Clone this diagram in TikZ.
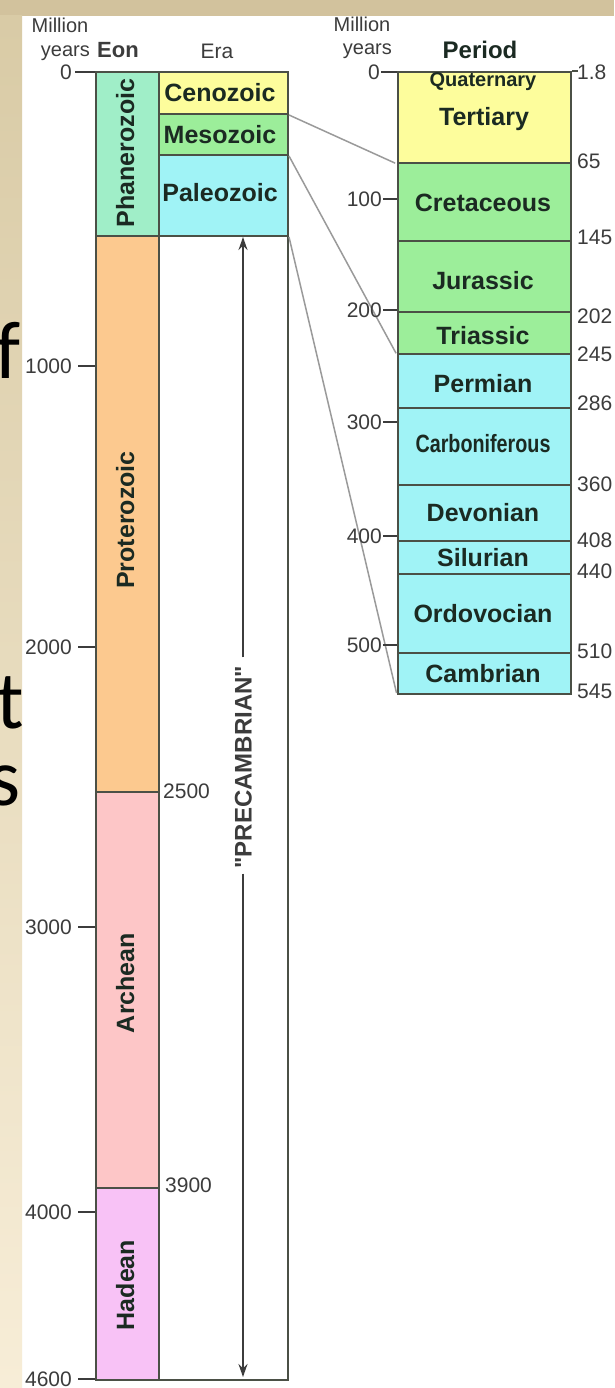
\documentclass[tikz,border=0pt]{standalone}
\usepackage{fontspec}
\setmainfont{Liberation Sans}
\newfontfamily\slidefont{Carlito}
\newfontfamily\qfont{Liberation Sans}[Ligatures=TeXOff]
\usetikzlibrary{arrows.meta}
\definecolor{band}{HTML}{D2C29D}
\definecolor{stripTop}{HTML}{D9CBA6}
\definecolor{stripBot}{HTML}{F7EDD7}
\definecolor{bord}{HTML}{4B5046}
\definecolor{labc}{HTML}{1B2A22}
\definecolor{tickc}{HTML}{3C3C3C}
\definecolor{connc}{HTML}{9A9A9A}
\definecolor{phan}{HTML}{A0EEC8}
\definecolor{prot}{HTML}{FCC98F}
\definecolor{arch}{HTML}{FDC6C7}
\definecolor{hade}{HTML}{F8C2F6}
\definecolor{ceno}{HTML}{FDFD9C}
\definecolor{meso}{HTML}{9CEE9A}
\definecolor{pale}{HTML}{A0F3F6}
\tikzset{
  cell/.style={draw=bord, line width=2pt, inner sep=0pt, anchor=north west},
  lab/.style={font=\fontsize{25}{25}\selectfont\bfseries, text=labc, inner sep=0pt, text height=18pt, text depth=0pt},
  tklab/.style={font=\fontsize{21}{21}\selectfont, text=tickc, inner sep=0pt, text height=15pt, text depth=0pt},
  hdr/.style={font=\fontsize{20}{20}\selectfont, text=tickc, inner sep=0pt, text height=14pt, text depth=0pt},
  tk/.style={draw=tickc, line width=1.5pt},
  conn/.style={draw=connc, line width=1.5pt},
  arr/.style={draw=tickc, line width=1.6pt, -{Stealth[length=13pt,width=9pt]}},
  bigletter/.style={font=\slidefont\fontsize{82}{82}\selectfont, inner sep=0pt, anchor=base west},
}
\begin{document}
\begin{tikzpicture}[x=1pt,y=-1pt]
\useasboundingbox (0,0) rectangle (614,1388);
% background
\fill[white] (0,0) rectangle (614,1388);
\fill[band] (0,0) rectangle (614,16);
\shade[top color=stripTop, bottom color=stripBot] (0,16) rectangle (22,1388);
\begin{scope}
\clip (0,16) rectangle (22,1388);
\node[bigletter] (lf) at (-5,378) {f};
\node[bigletter] (lt) at (-4,728) {t};
\node[bigletter] (ls) at (-12,805) {s};
\end{scope}

% Era column
\node[cell, fill=ceno, minimum width=129pt, minimum height=42pt] (ceno) at (158,71) {};
\node[cell, fill=meso, minimum width=129pt, minimum height=41pt] (meso) at (158,113) {};
\node[cell, fill=pale, minimum width=129pt, minimum height=81pt] (pale) at (158,154) {};
\node[cell, fill=white, minimum width=129pt, minimum height=1144pt] (prec) at (158,235) {};

% Eon column
\node[cell, fill=phan, minimum width=63pt, minimum height=164pt] (phan) at (95,71) {};
\node[cell, fill=prot, minimum width=63pt, minimum height=556pt] (prot) at (95,235) {};
\node[cell, fill=arch, minimum width=63pt, minimum height=396pt] (arch) at (95,791) {};
\node[cell, fill=hade, minimum width=63pt, minimum height=192pt] (hade) at (95,1187) {};

% Period column
\node[cell, fill=ceno, minimum width=173pt, minimum height=91pt] (tert) at (397,71) {};
\node[cell, fill=meso, minimum width=173pt, minimum height=78pt] (cret) at (397,162) {};
\node[cell, fill=meso, minimum width=173pt, minimum height=71pt] (jura) at (397,240) {};
\node[cell, fill=meso, minimum width=173pt, minimum height=42pt] (tria) at (397,311) {};
\node[cell, fill=pale, minimum width=173pt, minimum height=54pt] (perm) at (397,353) {};
\node[cell, fill=pale, minimum width=173pt, minimum height=77pt] (carb) at (397,407) {};
\node[cell, fill=pale, minimum width=173pt, minimum height=56pt] (devo) at (397,484) {};
\node[cell, fill=pale, minimum width=173pt, minimum height=33pt] (silu) at (397,540) {};
\node[cell, fill=pale, minimum width=173pt, minimum height=79pt] (ordo) at (397,573) {};
\node[cell, fill=pale, minimum width=173pt, minimum height=41pt] (camb) at (397,652) {};
\draw[draw=bord, line width=2pt] (tert.north east) -- ++(6,0);

% zoom connectors
\draw[conn, shorten >=2pt] (ceno.south east) -- (tert.south west);
\draw[conn, shorten >=2pt] (meso.south east) -- (tria.south west);
\draw[conn, shorten >=2pt] (pale.south east) -- (camb.south west);

% headers
\node[hdr, anchor=center] (mil1) at (60,26) {Million};
\node[hdr, anchor=east] (yrs1) at (90,50) {years};
\node[font=\fontsize{22}{22}\selectfont\bfseries, text=tickc, inner sep=0pt, text height=16pt, text depth=0pt] (eonh) at (118,50) {Eon};
\node[font=\fontsize{21}{21}\selectfont, text=tickc, inner sep=0pt, text height=15pt, text depth=0pt] (erah) at (217,51) {Era};
\node[hdr, anchor=center] (mil2) at (362,25) {Million};
\node[hdr, anchor=east] (yrs2) at (392,48) {years};
\node[font=\fontsize{24}{24}\selectfont\bfseries, text=labc, inner sep=0pt, text height=17pt, text depth=0pt] (perh) at (480,50) {Period};

% left ticks
\node[tklab, anchor=east] (t0) at (72,72) {0};
\draw[tk] ([xshift=3pt]t0.east) -- (t0.east -| phan.west);
\foreach \v/\y in {1000/366,2000/647,3000/927,4000/1212}{
  \node[tklab, anchor=east] (t\v) at (72,\y) {\v};
  \draw[tk] ([xshift=6pt]t\v.east) -- (t\v.east -| phan.west);
}
\node[tklab, anchor=east] (t4600) at (72,1379) {4600};
\draw[tk] ([xshift=6pt]t4600.east) -- (t4600.east -| phan.west);
\node[tklab, anchor=west] (t2500) at (163,791) {2500};
\node[tklab, anchor=west] (t3900) at (165,1185) {3900};

% period ticks left
\node[tklab, anchor=east] (p0) at (380,72) {0};
\draw[tk] ([xshift=1pt]p0.east) -- (p0.east -| tert.west);
\foreach \v/\y in {100/199,200/310,300/422,400/536,500/645}{
  \node[tklab, anchor=east] (p\v) at (382,\y) {\v};
  \draw[tk] ([xshift=1pt]p\v.east) -- (p\v.east -| tert.west);
}
% period boundary labels right
\foreach \v/\y [count=\i] in {1.8/72,65/161,145/237,202/316,245/354,286/403,360/484,408/540,440/571,510/651,545/691}{
  \node[tklab, anchor=west] (r\i) at (577,\y) {\v};
}

% era labels
\node[lab] (lceno) at (220,93) {Cenozoic};
\node[lab] (lmeso) at (220,135) {Mesozoic};
\node[lab] (lpale) at (220,193) {Paleozoic};

% eon labels
\node[lab, rotate=90] (lphan) at (125,153) {Phanerozoic};
\node[lab, rotate=90] (lprot) at (125,520) {Proterozoic};
\node[lab, rotate=90] (larch) at (125,983) {Archean};
\node[lab, rotate=90] (lhade) at (125,1285) {Hadean};

% period labels
\node[lab, font=\fontsize{20}{20}\selectfont\bfseries, text height=14pt] (lquat) at (483,80) {Quaternary};
\node[lab] (ltert) at (484,117) {Tertiary};
\node[lab] (lcret) at (483,203) {Cretaceous};
\node[lab] (ljura) at (483,280) {Jurassic};
\node[lab] (ltria) at (483,335) {Triassic};
\node[lab] (lperm) at (483,383) {Permian};
\node[lab, xscale=0.79] (lcarb) at (483,443) {Carboniferous};
\node[lab] (ldevo) at (483,512) {Devonian};
\node[lab] (lsilu) at (483,557) {Silurian};
\node[lab] (lordo) at (483,613) {Ordovocian};
\node[lab] (lcamb) at (483,673) {Cambrian};

% Precambrian arrow
\node[font=\qfont\fontsize{24}{24}\selectfont\bfseries, text=tickc, inner sep=0pt, text height=17pt, text depth=0pt, rotate=90] (pc) at (243,767) {"PRECAMBRIAN"};
\coordinate (pctop) at (243,237);
\coordinate (pcbot) at (243,1377);
\draw[arr, shorten <=8pt] (pc.east) -- (pctop);
\draw[arr, shorten <=5pt] (pc.west) -- (pcbot);
\end{tikzpicture}
\end{document}
